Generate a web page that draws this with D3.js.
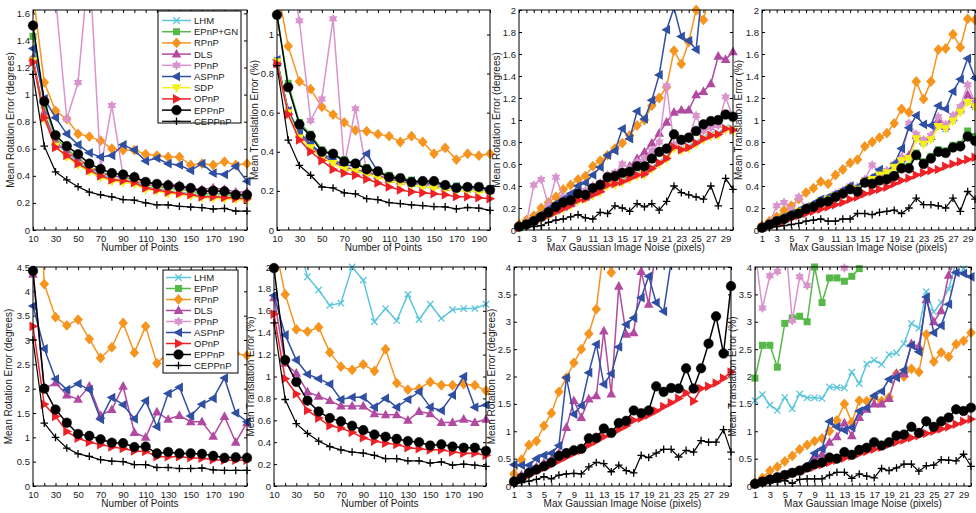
<!DOCTYPE html>
<html><head><meta charset="utf-8">
<script src="https://cdn.jsdelivr.net/npm/d3@7"></script>
<style>body{margin:0;background:#fff} text{font-family:"Liberation Sans",Arial,sans-serif;fill:#1a1a1a}</style>
</head><body><svg id="c" width="976" height="513"></svg>
<script>
// ---------- x values and tick labels ----------
const ptsX = [10,20,30,40,50,60,70,80,90,100,110,120,130,140,150,160,170,180,190,200];
const noiseX = [1,2,3,4,5,6,7,8,9,10,11,12,13,14,15,16,17,18,19,20,21,22,23,24,25,26,27,28,29,30];
const ptsTicks = [10,30,50,70,90,110,130,150,170,190];
const ptsMinor = [20,40,60,80,100,120,140,160,180,200];
const noiseTicks = [1,3,5,7,9,11,13,15,17,19,21,23,25,27,29];
const noiseMinor = [2,4,6,8,10,12,14,16,18,20,22,24,26,28,30];
const yTicksP1 = [0,0.2,0.4,0.6,0.8,1,1.2,1.4,1.6];
const yTicksP2 = [0,0.2,0.4,0.6,0.8,1];
const yTicks2 = [0,0.2,0.4,0.6,0.8,1,1.2,1.4,1.6,1.8,2];
const yTicks45 = [0,0.5,1,1.5,2,2.5,3,3.5,4,4.5];
const yTicks4 = [0,0.5,1,1.5,2,2.5,3,3.5,4];
const legendTop = ["LHM","EPnP+GN","RPnP","DLS","PPnP","ASPnP","SDP","OPnP","EPPnP","CEPPnP"];
const legendBottom = ["LHM","EPnP","RPnP","DLS","PPnP","ASPnP","OPnP","EPPnP","CEPPnP"];

// ---------- Panel 1: rotation vs number of points ----------
const P1_LHM    = [1.26,0.85,0.64,0.57,0.50,0.45,0.41,0.38,0.37,0.36,0.32,0.31,0.29,0.28,0.27,0.26,0.255,0.25,0.245,0.24];
const P1_EPnPGN = [1.43,0.92,0.68,0.60,0.53,0.47,0.43,0.40,0.39,0.37,0.34,0.32,0.31,0.30,0.29,0.27,0.27,0.265,0.25,0.25];
const P1_RPnP   = [1.75,1.09,0.88,0.82,0.71,0.69,0.66,0.60,0.59,0.59,0.56,0.55,0.54,0.54,0.48,0.49,0.48,0.505,0.48,0.49];
const P1_DLS    = [1.27,0.86,0.65,0.58,0.52,0.47,0.42,0.40,0.39,0.40,0.35,0.34,0.34,0.33,0.31,0.30,0.31,0.30,0.28,0.28];
const P1_PPnP   = [2.9,2.3,1.72,0.82,1.09,2.0,0.45,0.92,0.40,0.38,0.34,0.33,0.32,0.31,0.30,0.28,0.29,0.28,0.27,0.26];
const P1_ASPnP  = [1.34,0.97,0.83,0.71,0.63,0.57,0.54,0.55,0.63,0.59,0.51,0.53,0.49,0.48,0.44,0.49,0.42,0.41,0.47,0.36];
const P1_SDP    = [1.25,0.82,0.62,0.54,0.48,0.43,0.39,0.36,0.35,0.34,0.30,0.29,0.27,0.265,0.25,0.24,0.235,0.23,0.225,0.22];
const P1_OPnP   = [1.24,0.83,0.61,0.55,0.49,0.44,0.40,0.37,0.365,0.35,0.31,0.295,0.28,0.27,0.26,0.245,0.245,0.24,0.235,0.23];
const P1_EPPnP  = [1.51,0.95,0.70,0.62,0.56,0.49,0.45,0.42,0.41,0.39,0.355,0.34,0.33,0.32,0.31,0.285,0.29,0.285,0.26,0.26];
const P1_CEPPnP = [1.15,0.62,0.43,0.37,0.32,0.28,0.26,0.245,0.225,0.22,0.20,0.185,0.185,0.175,0.17,0.165,0.155,0.16,0.14,0.14];

// ---------- Panel 2: translation vs number of points ----------
const P2_LHM    = [0.87,0.61,0.49,0.43,0.38,0.35,0.32,0.31,0.29,0.28,0.26,0.25,0.235,0.23,0.225,0.215,0.21,0.21,0.205,0.20];
const P2_EPnPGN = [1.10,0.75,0.55,0.49,0.41,0.39,0.36,0.34,0.32,0.30,0.28,0.27,0.255,0.245,0.24,0.23,0.225,0.22,0.215,0.21];
const P2_RPnP   = [1.25,0.94,0.76,0.72,0.63,0.59,0.55,0.51,0.505,0.49,0.48,0.45,0.48,0.45,0.39,0.42,0.36,0.39,0.38,0.39];
const P2_DLS    = [0.86,0.61,0.49,0.43,0.38,0.35,0.32,0.31,0.295,0.28,0.26,0.25,0.24,0.235,0.23,0.22,0.215,0.215,0.21,0.205];
const P2_PPnP   = [1.5,1.4,1.07,0.56,0.67,1.08,0.33,0.62,0.30,0.29,0.27,0.26,0.245,0.24,0.235,0.225,0.215,0.215,0.21,0.205];
const P2_ASPnP  = [0.87,0.61,0.50,0.44,0.39,0.36,0.33,0.33,0.39,0.30,0.27,0.26,0.25,0.24,0.24,0.225,0.22,0.215,0.22,0.21];
const P2_SDP    = [0.86,0.60,0.47,0.42,0.37,0.34,0.31,0.30,0.285,0.27,0.25,0.24,0.23,0.22,0.215,0.21,0.20,0.20,0.195,0.19];
const P2_OPnP   = [0.85,0.59,0.46,0.40,0.355,0.31,0.29,0.28,0.26,0.24,0.22,0.205,0.195,0.19,0.185,0.18,0.17,0.17,0.165,0.16];
const P2_EPPnP  = [1.10,0.73,0.54,0.48,0.40,0.39,0.35,0.34,0.31,0.30,0.27,0.265,0.245,0.25,0.25,0.23,0.215,0.22,0.22,0.205];
const P2_CEPPnP = [0.84,0.46,0.33,0.28,0.22,0.215,0.19,0.185,0.16,0.155,0.14,0.135,0.128,0.125,0.12,0.118,0.108,0.115,0.112,0.10];

// ---------- Panel 3: rotation vs image noise ----------
const P3_LHM    = [0.02,0.05,0.08,0.11,0.14,0.17,0.20,0.23,0.28,0.29,0.33,0.36,0.42,0.43,0.45,0.48,0.51,0.52,0.57,0.62,0.66,0.77,0.74,0.76,0.80,0.84,0.87,0.88,0.93,0.92];
const P3_EPnPGN = [0.03,0.05,0.08,0.12,0.16,0.20,0.24,0.27,0.32,0.32,0.37,0.40,0.47,0.48,0.51,0.52,0.57,0.57,0.64,0.70,0.73,0.86,0.81,0.83,0.89,0.95,0.98,0.99,1.04,1.02];
const P3_RPnP   = [0.05,0.09,0.13,0.20,0.25,0.30,0.37,0.41,0.46,0.49,0.58,0.63,0.68,0.74,0.79,0.86,0.95,1.00,1.13,1.20,1.30,1.63,1.51,1.71,2.00,1.91,2.2,2.4,2.5,2.6];
const P3_DLS    = [0.03,0.05,0.08,0.12,0.15,0.18,0.21,0.24,0.29,0.30,0.34,0.37,0.43,0.45,0.52,0.58,0.65,0.71,0.79,0.88,0.98,1.07,1.09,1.09,1.23,1.26,1.33,1.58,1.55,1.62];
const P3_PPnP   = [0.03,0.06,0.41,0.46,0.22,0.48,0.30,0.32,0.33,0.36,0.40,0.43,0.50,0.52,0.60,0.56,0.62,0.65,0.72,0.80,1.31,0.78,0.80,0.83,1.04,0.90,0.93,0.95,1.21,1.02];
const P3_ASPnP  = [0.03,0.06,0.10,0.14,0.19,0.24,0.28,0.33,0.40,0.43,0.50,0.57,0.68,0.72,0.92,0.83,1.08,1.01,1.18,1.41,1.82,2.02,1.76,1.72,1.64,2.3,2.5,2.6,2.8,3.0];
const P3_SDP    = [0.02,0.04,0.07,0.10,0.13,0.16,0.19,0.22,0.26,0.28,0.31,0.34,0.40,0.41,0.43,0.46,0.49,0.50,0.55,0.60,0.64,0.74,0.72,0.74,0.78,0.82,0.85,0.86,0.91,0.90];
const P3_OPnP   = [0.02,0.045,0.075,0.105,0.135,0.165,0.195,0.225,0.27,0.285,0.32,0.35,0.41,0.42,0.44,0.47,0.50,0.51,0.56,0.61,0.65,0.755,0.73,0.75,0.79,0.83,0.86,0.87,0.92,0.91];
const P3_EPPnP  = [0.03,0.05,0.08,0.12,0.16,0.21,0.25,0.27,0.33,0.32,0.38,0.41,0.48,0.49,0.52,0.53,0.58,0.58,0.65,0.71,0.74,0.87,0.82,0.84,0.90,0.96,0.99,1.00,1.05,1.03];
const P3_CEPPnP = [0.03,0.03,0.03,0.04,0.07,0.09,0.10,0.12,0.14,0.11,0.10,0.16,0.15,0.22,0.20,0.17,0.24,0.21,0.24,0.18,0.26,0.40,0.34,0.32,0.30,0.28,0.40,0.22,0.47,0.37];

// ---------- Panel 4: translation vs image noise ----------
const P4_LHM    = [0.02,0.05,0.08,0.11,0.14,0.17,0.20,0.22,0.26,0.28,0.32,0.35,0.39,0.37,0.44,0.46,0.50,0.52,0.57,0.64,0.66,0.84,0.79,0.83,0.95,0.92,1.00,1.08,1.17,1.12];
const P4_EPnPGN = [0.02,0.05,0.08,0.11,0.14,0.16,0.20,0.22,0.27,0.27,0.31,0.34,0.38,0.36,0.44,0.43,0.46,0.47,0.50,0.58,0.58,0.70,0.62,0.67,0.73,0.72,0.77,0.78,0.90,0.85];
const P4_RPnP   = [0.04,0.08,0.12,0.18,0.22,0.28,0.34,0.38,0.44,0.42,0.50,0.55,0.61,0.64,0.76,0.80,0.84,0.88,0.97,1.10,1.07,1.35,1.19,1.35,1.64,1.65,1.78,1.66,1.92,1.91];
const P4_DLS    = [0.02,0.05,0.08,0.11,0.14,0.17,0.20,0.22,0.26,0.28,0.32,0.35,0.39,0.38,0.45,0.47,0.51,0.53,0.58,0.65,0.68,0.86,0.81,0.85,1.00,0.94,1.02,1.10,1.23,1.14];
const P4_PPnP   = [0.03,0.06,0.22,0.25,0.18,0.30,0.20,0.23,0.27,0.29,0.33,0.36,0.40,0.39,0.46,0.59,0.52,0.54,0.60,0.66,0.97,0.87,0.82,0.86,1.03,0.96,1.04,1.12,1.32,1.16];
const P4_ASPnP  = [0.03,0.06,0.09,0.12,0.15,0.18,0.21,0.24,0.28,0.30,0.33,0.36,0.40,0.39,0.45,0.48,0.55,0.52,0.60,0.74,0.93,1.04,0.96,0.95,1.13,1.10,1.26,1.37,1.56,1.38];
const P4_SDP    = [0.02,0.05,0.08,0.11,0.14,0.17,0.19,0.22,0.26,0.28,0.31,0.34,0.38,0.37,0.44,0.46,0.50,0.52,0.57,0.63,0.65,0.83,0.78,0.82,0.94,0.92,0.99,1.07,1.16,1.12];
const P4_OPnP   = [0.02,0.04,0.06,0.08,0.11,0.13,0.15,0.17,0.19,0.21,0.23,0.25,0.28,0.30,0.33,0.35,0.37,0.39,0.42,0.45,0.47,0.50,0.52,0.54,0.55,0.58,0.60,0.62,0.64,0.66];
const P4_EPPnP  = [0.02,0.05,0.08,0.10,0.13,0.15,0.19,0.21,0.25,0.26,0.30,0.33,0.37,0.35,0.43,0.42,0.45,0.46,0.49,0.56,0.56,0.68,0.60,0.65,0.71,0.70,0.75,0.76,0.85,0.81];
const P4_CEPPnP = [0.02,0.02,0.03,0.04,0.05,0.06,0.08,0.09,0.10,0.08,0.08,0.10,0.10,0.15,0.15,0.14,0.16,0.17,0.18,0.15,0.20,0.29,0.23,0.23,0.22,0.20,0.29,0.17,0.35,0.28];

// ---------- Panel 5: rotation vs number of points (second set) ----------
const P5_LHM    = [null,null,null,null,null,null,null,null,null,null,null,null,null,null,null,null,null,null,null,null];
const P5_EPnP   = [null,null,null,null,null,null,null,null,null,null,null,null,null,null,null,null,null,null,null,null];
const P5_RPnP   = [9.0,4.15,3.47,3.30,3.42,3.02,2.63,2.85,3.35,2.74,3.28,2.52,2.75,2.85,2.62,2.90,2.65,2.80,2.72,2.68];
const P5_DLS    = [4.35,2.00,2.12,1.87,1.78,2.05,1.45,1.57,2.05,1.10,1.00,1.52,1.37,1.45,1.32,1.32,1.02,1.43,0.90,1.30];
const P5_PPnP   = [null,null,null,null,null,null,null,null,null,null,null,null,null,null,null,null,null,null,null,null];
const P5_ASPnP  = [3.70,2.82,2.20,1.98,2.10,1.98,1.37,1.82,1.67,1.38,1.75,1.22,1.90,2.03,1.44,1.68,1.80,2.22,1.50,1.32];
const P5_OPnP   = [3.28,1.68,1.43,1.12,0.98,0.90,0.85,0.80,0.77,0.72,0.71,0.60,0.60,0.60,0.58,0.57,0.54,0.53,0.53,0.53];
const P5_EPPnP  = [4.42,2.00,1.57,1.30,1.07,1.03,0.96,0.89,0.88,0.80,0.81,0.67,0.70,0.67,0.67,0.66,0.62,0.58,0.59,0.58];
const P5_CEPPnP = [3.00,1.29,1.00,0.78,0.66,0.61,0.54,0.51,0.50,0.44,0.44,0.38,0.38,0.36,0.36,0.37,0.33,0.32,0.32,0.32];

// ---------- Panel 6: translation vs number of points (second set) ----------
const P6_LHM    = [null,null,2.28,1.91,1.79,1.65,1.67,2.00,1.88,1.50,1.62,1.51,1.75,1.52,1.66,1.53,1.61,1.62,1.62,1.66];
const P6_EPnP   = [null,null,null,null,null,null,null,null,null,null,null,null,null,null,null,null,null,null,null,null];
const P6_RPnP   = [2.25,1.75,1.43,1.41,1.45,1.22,1.09,1.06,1.11,1.05,1.25,0.94,0.88,0.89,0.95,0.92,0.92,0.93,0.92,0.87];
const P6_DLS    = [1.72,1.12,1.03,0.86,0.82,0.78,0.73,0.73,0.73,0.66,0.65,0.65,0.60,0.68,0.66,0.58,0.58,0.61,0.58,0.61];
const P6_PPnP   = [null,null,null,null,null,null,null,null,null,null,null,null,null,null,null,null,null,null,null,null];
const P6_ASPnP  = [1.74,1.38,1.15,1.02,0.98,0.93,0.79,0.81,0.81,0.72,0.80,0.72,0.79,0.86,0.72,0.69,0.83,1.00,0.72,0.74];
const P6_OPnP   = [1.57,0.98,0.84,0.69,0.62,0.55,0.53,0.49,0.44,0.41,0.39,0.38,0.35,0.34,0.33,0.33,0.31,0.30,0.30,0.28];
const P6_EPPnP  = [1.99,1.15,0.95,0.78,0.68,0.62,0.59,0.55,0.51,0.47,0.45,0.43,0.41,0.40,0.37,0.38,0.36,0.35,0.35,0.32];
const P6_CEPPnP = [1.49,0.79,0.57,0.48,0.41,0.36,0.33,0.31,0.30,0.28,0.25,0.25,0.23,0.23,0.21,0.22,0.19,0.20,0.19,0.18];

// ---------- Panel 7: rotation vs image noise (second set) ----------
const P7_LHM    = [null,null,null,null,null,null,null,null,null,null,null,null,null,null,null,null,null,null,null,null,null,null,null,null,null,null,null,null,null,null];
const P7_EPnP   = [null,null,null,null,null,null,null,null,null,null,null,null,null,null,null,null,null,null,null,null,null,null,null,null,null,null,null,null,null,null];
const P7_RPnP   = [0.22,0.48,0.75,0.82,1.10,1.33,1.72,1.98,2.25,2.50,2.78,3.23,4.35,3.90,4.6,null,null,null,null,null,null,null,null,null,null,null,null,null,null,null];
const P7_DLS    = [0.10,0.20,0.28,0.35,0.42,0.48,0.60,1.07,1.56,1.25,1.59,1.65,2.83,1.68,3.65,2.77,2.80,3.92,3.32,4.4,null,null,null,null,null,null,null,null,null,null];
const P7_PPnP   = [null,null,null,null,null,null,null,null,null,null,null,null,null,null,null,null,null,null,null,null,null,null,null,null,null,null,null,null,null,null];
const P7_ASPnP  = [0.39,0.38,0.38,0.50,0.56,0.60,0.74,1.98,1.31,1.47,2.07,2.59,1.86,2.05,2.54,2.95,3.07,3.44,3.83,3.35,3.19,4.1,null,null,null,null,null,null,null,null];
const P7_OPnP   = [0.07,0.13,0.20,0.27,0.33,0.39,0.46,0.53,0.60,0.65,0.75,0.82,0.90,0.96,1.03,1.10,1.20,1.24,1.30,1.37,1.45,1.52,1.60,1.70,1.55,1.78,1.82,1.88,1.97,2.08];
const P7_EPPnP  = [0.08,0.15,0.24,0.30,0.36,0.43,0.55,0.60,0.65,0.68,0.87,0.88,1.05,0.97,1.15,1.19,1.38,1.33,1.38,1.82,1.72,1.79,1.78,2.15,1.78,2.15,2.60,3.10,2.42,3.65];
const P7_CEPPnP = [0.03,0.06,0.09,0.12,0.17,0.13,0.20,0.22,0.23,0.22,0.35,0.43,0.41,0.26,0.38,0.28,0.24,0.56,0.52,0.60,0.67,0.67,0.53,0.65,0.62,0.83,0.80,0.80,1.03,0.62];

// ---------- Panel 8: translation vs image noise (second set) ----------
const P8_LHM    = [1.56,1.67,1.48,1.38,1.62,1.41,1.68,1.61,1.61,1.60,1.81,1.80,1.79,2.08,1.87,2.23,2.30,2.22,2.40,2.43,2.60,2.97,2.88,3.55,3.18,3.35,3.60,4.10,3.97,4.3];
const P8_EPnP   = [1.97,2.57,2.57,2.17,2.97,3.07,3.10,3.00,4.00,3.35,3.80,3.80,3.74,3.83,3.97,4.4,null,null,null,null,null,null,null,null,null,null,null,null,null,null];
const P8_RPnP   = [0.06,0.15,0.28,0.35,0.45,0.55,0.67,0.75,0.82,0.87,1.00,1.20,1.50,1.16,1.56,1.55,1.62,1.55,1.62,2.05,2.00,2.14,2.08,2.77,2.27,2.44,2.36,2.59,2.65,2.80];
const P8_DLS    = [0.04,0.08,0.12,0.16,0.20,0.24,0.28,0.33,0.55,0.58,0.80,0.90,1.15,0.92,1.25,1.40,1.50,1.50,1.60,2.05,2.05,2.60,2.55,3.40,3.00,3.20,3.85,4.2,4.3,4.4];
const P8_PPnP   = [4.3,3.25,3.84,3.92,4.6,3.02,3.82,3.66,4.4,4.6,4.5,4.3,3.98,4.5,null,null,null,null,null,null,null,null,null,null,null,null,null,null,null,null];
const P8_ASPnP  = [0.04,0.08,0.12,0.16,0.21,0.25,0.30,0.38,0.60,0.68,1.18,1.08,1.02,1.07,1.37,1.43,1.65,1.73,1.95,1.98,2.12,2.57,2.45,3.45,2.80,2.93,3.32,3.90,3.88,3.82];
const P8_OPnP   = [0.03,0.07,0.11,0.15,0.19,0.23,0.27,0.31,0.35,0.39,0.43,0.47,0.51,0.55,0.59,0.63,0.67,0.71,0.76,0.80,0.84,0.88,0.92,0.96,1.00,1.04,1.08,1.13,1.18,1.22];
const P8_EPPnP  = [0.04,0.08,0.12,0.16,0.20,0.24,0.28,0.34,0.40,0.43,0.52,0.50,0.62,0.57,0.66,0.70,0.80,0.74,0.80,0.92,0.94,1.08,0.97,1.18,1.08,1.18,1.25,1.40,1.37,1.43];
const P8_CEPPnP = [0.02,0.04,0.06,0.07,0.10,0.05,0.12,0.13,0.13,0.13,0.20,0.25,0.25,0.14,0.22,0.18,0.15,0.32,0.28,0.33,0.40,0.40,0.27,0.37,0.38,0.48,0.47,0.46,0.58,0.36];

// ---------- styles ----------
const STY = {
  "LHM":     {c:"#5cc6dc", m:"x", w:1.5},
  "EPnP+GN": {c:"#56b848", m:"s", w:1.5},
  "EPnP":    {c:"#56b848", m:"s", w:1.5},
  "RPnP":    {c:"#f7941e", m:"d", w:1.5},
  "DLS":     {c:"#b24aa2", m:"^", w:1.5},
  "PPnP":    {c:"#d993cd", m:"h", w:1.5},
  "ASPnP":   {c:"#2f4fa3", m:"<", w:1.5},
  "SDP":     {c:"#f6f01a", m:"v", w:1.5},
  "OPnP":    {c:"#ee2226", m:">", w:1.5},
  "EPPnP":   {c:"#000000", m:"o", w:1.5},
  "CEPPnP":  {c:"#000000", m:"+", w:1.2}
};

const svg = d3.select("#c");

function hexagram(r){
  const pts=[];
  for(let i=0;i<12;i++){
    const a=-Math.PI/2+i*Math.PI/6;
    const rr=(i%2===0)?r:r*0.58;
    pts.push([rr*Math.cos(a),rr*Math.sin(a)]);
  }
  return "M"+pts.map(p=>p[0].toFixed(2)+","+p[1].toFixed(2)).join("L")+"Z";
}
function drawMarker(g,type,color,x,y){
  const t=`translate(${x},${y})`;
  switch(type){
    case "o": g.append("circle").attr("cx",x).attr("cy",y).attr("r",4.8).attr("fill",color).attr("stroke",color).attr("stroke-width",0.5); break;
    case "x": g.append("path").attr("d","M-3.2,-3.2L3.2,3.2M-3.2,3.2L3.2,-3.2").attr("transform",t).attr("stroke",color).attr("stroke-width",1.3).attr("fill","none"); break;
    case "+": g.append("path").attr("d","M-3.8,0H3.8M0,-3.8V3.8").attr("transform",t).attr("stroke",color).attr("stroke-width",1.3).attr("fill","none"); break;
    case "s": g.append("rect").attr("x",x-3.5).attr("y",y-3.5).attr("width",7).attr("height",7).attr("fill",color); break;
    case "d": g.append("path").attr("d","M0,-5.4L4.8,0L0,5.4L-4.8,0Z").attr("transform",t).attr("fill",color); break;
    case "^": g.append("path").attr("d","M0,-5.2L4.8,3.5L-4.8,3.5Z").attr("transform",t).attr("fill",color); break;
    case "v": g.append("path").attr("d","M0,5.2L4.8,-3.5L-4.8,-3.5Z").attr("transform",t).attr("fill",color); break;
    case "<": g.append("path").attr("d","M-5.2,0L3.5,-4.8L3.5,4.8Z").attr("transform",t).attr("fill",color); break;
    case ">": g.append("path").attr("d","M5.2,0L-3.5,-4.8L-3.5,4.8Z").attr("transform",t).attr("fill",color); break;
    case "h": g.append("path").attr("d",hexagram(5)).attr("transform",t).attr("fill",color); break;
  }
}

let clipId=0;
function panel(cfg){
  const [x0,y0,x1,y1]=cfg.box;
  const xs=d3.scaleLinear().domain(cfg.xDomain).range([x0,x1]);
  const ys=d3.scaleLinear().domain(cfg.yDomain).range([y1,y0]);
  const g=svg.append("g");
  const id="clip"+(clipId++);
  svg.append("clipPath").attr("id",id).append("rect").attr("x",x0).attr("y",y0).attr("width",x1-x0).attr("height",y1-y0);

  const fmt=d=>String(d);
  const style=a=>{a.select(".domain").remove(); a.attr("font-family",null); a.selectAll("text").attr("font-size",9.5).attr("fill","#1a1a1a"); a.selectAll("line").attr("stroke","#000");};
  g.append("g").attr("transform",`translate(0,${y1})`)
    .call(d3.axisBottom(xs).tickValues(cfg.xTicks).tickSize(-3).tickPadding(5).tickFormat(fmt)).call(style);
  g.append("g").attr("transform",`translate(0,${y1})`)
    .call(d3.axisBottom(xs).tickValues(cfg.xMinor).tickSize(-3).tickFormat("")).call(style);
  g.append("g").attr("transform",`translate(0,${y0})`)
    .call(d3.axisTop(xs).tickValues(cfg.xTicks.concat(cfg.xMinor)).tickSize(-3).tickFormat("")).call(style);
  g.append("g").attr("transform",`translate(${x0},0)`)
    .call(d3.axisLeft(ys).tickValues(cfg.yTicks).tickSize(-3).tickPadding(3).tickFormat(fmt)).call(style);
  g.append("g").attr("transform",`translate(${x1},0)`)
    .call(d3.axisRight(ys).tickValues(cfg.yTicks).tickSize(-3).tickFormat("")).call(style);

  const plot=g.append("g");
  const ymax=cfg.yDomain[1];
  cfg.series.forEach(s=>{
    const st=STY[s.name];
    const pts=cfg.xVals.map((x,i)=>[x,s.data[i]]);
    const line=d3.line().defined(d=>d[1]!=null).x(d=>xs(d[0])).y(d=>ys(d[1]));
    plot.append("path").attr("d",line(pts)).attr("fill","none").attr("stroke",st.c)
      .attr("stroke-width",st.w).attr("stroke-linejoin","round").attr("clip-path",`url(#${id})`);
    const mg=plot.append("g");
    pts.forEach(d=>{ if(d[1]!=null && d[1]<=ymax*1.004 && d[1]>=cfg.yDomain[0]) drawMarker(mg,st.m,st.c,xs(d[0]),ys(d[1])); });
  });

  g.append("rect").attr("x",x0).attr("y",y0).attr("width",x1-x0).attr("height",y1-y0)
    .attr("fill","none").attr("stroke","#000").attr("stroke-width",1);

  g.append("text").attr("x",(x0+x1)/2).attr("y",y1+21).attr("text-anchor","middle").attr("font-size",10).text(cfg.xTitle);
  g.append("text").attr("transform",`translate(${x0-cfg.yTitleOff},${(y0+y1)/2}) rotate(-90)`).attr("text-anchor","middle").attr("font-size",10).text(cfg.yTitle);

  if(cfg.legend){
    const L=cfg.legend;
    const lg=g.append("g");
    lg.append("rect").attr("x",L.x).attr("y",L.y).attr("width",L.w).attr("height",L.h).attr("fill","#fff").attr("stroke","#000").attr("stroke-width",1);
    L.names.forEach((n,i)=>{
      const st=STY[n];
      const yy=L.y+L.first+i*L.step;
      lg.append("line").attr("x1",L.x+L.l0).attr("x2",L.x+L.l1).attr("y1",yy).attr("y2",yy).attr("stroke",st.c).attr("stroke-width",st.w);
      drawMarker(lg,st.m,st.c,L.x+(L.l0+L.l1)/2,yy);
      lg.append("text").attr("x",L.x+L.l1+3).attr("y",yy+3.5).attr("font-size",9.5).text(n);
    });
  }
}

const T = "Mean Translation Error (%)", R = "Mean Rotation Error (degrees)";
const NP = "Number of Points", NG = "Max Gaussian Image Noise (pixels)";
const mk = (names, arrs) => names.map((n,i)=>({name:n, data:arrs[i]}));

const ptsCfg = {xVals:ptsX, xDomain:[10,200], xTicks:ptsTicks, xMinor:ptsMinor, xTitle:NP};
const noiCfg = {xVals:noiseX, xDomain:[1,30], xTicks:noiseTicks, xMinor:noiseMinor, xTitle:NG};

panel(Object.assign({}, ptsCfg, {box:[33,10,247,230], yDomain:[0,1.625], yTicks:yTicksP1, yTitle:R, yTitleOff:19,
  series: mk(legendTop,[P1_LHM,P1_EPnPGN,P1_RPnP,P1_DLS,P1_PPnP,P1_ASPnP,P1_SDP,P1_OPnP,P1_EPPnP,P1_CEPPnP]),
  legend:{x:158,y:11,w:83,h:112,first:9.5,step:11.2,l0:4,l1:33,names:legendTop}}));
panel(Object.assign({}, ptsCfg, {box:[277,10,490,230], yDomain:[0,1.125], yTicks:yTicksP2, yTitle:T, yTitleOff:19,
  series: mk(legendTop,[P2_LHM,P2_EPnPGN,P2_RPnP,P2_DLS,P2_PPnP,P2_ASPnP,P2_SDP,P2_OPnP,P2_EPPnP,P2_CEPPnP])}));
panel(Object.assign({}, noiCfg, {box:[519,10,733,230], yDomain:[0,2], yTicks:yTicks2, yTitle:R, yTitleOff:19,
  series: mk(legendTop,[P3_LHM,P3_EPnPGN,P3_RPnP,P3_DLS,P3_PPnP,P3_ASPnP,P3_SDP,P3_OPnP,P3_EPPnP,P3_CEPPnP])}));
panel(Object.assign({}, noiCfg, {box:[762,10,975,230], yDomain:[0,2], yTicks:yTicks2, yTitle:T, yTitleOff:20,
  series: mk(legendTop,[P4_LHM,P4_EPnPGN,P4_RPnP,P4_DLS,P4_PPnP,P4_ASPnP,P4_SDP,P4_OPnP,P4_EPPnP,P4_CEPPnP])}));

panel(Object.assign({}, ptsCfg, {box:[33,267,247,486], yDomain:[0,4.5], yTicks:yTicks45, yTitle:R, yTitleOff:21,
  series: mk(legendBottom,[P5_LHM,P5_EPnP,P5_RPnP,P5_DLS,P5_PPnP,P5_ASPnP,P5_OPnP,P5_EPPnP,P5_CEPPnP]),
  legend:{x:163,y:270,w:75,h:103,first:7.5,step:11,l0:3,l1:28,names:legendBottom}}));
panel(Object.assign({}, ptsCfg, {box:[274,267,486,486], yDomain:[0,2], yTicks:yTicks2, yTitle:T, yTitleOff:20,
  series: mk(legendBottom,[P6_LHM,P6_EPnP,P6_RPnP,P6_DLS,P6_PPnP,P6_ASPnP,P6_OPnP,P6_EPPnP,P6_CEPPnP])}));
panel(Object.assign({}, noiCfg, {box:[514,267,731,486], yDomain:[0,4], yTicks:yTicks4, yTitle:R, yTitleOff:19,
  series: mk(legendBottom,[P7_LHM,P7_EPnP,P7_RPnP,P7_DLS,P7_PPnP,P7_ASPnP,P7_OPnP,P7_EPPnP,P7_CEPPnP])}));
panel(Object.assign({}, noiCfg, {box:[755,267,971,486], yDomain:[0,4], yTicks:yTicks4, yTitle:T, yTitleOff:19,
  series: mk(legendBottom,[P8_LHM,P8_EPnP,P8_RPnP,P8_DLS,P8_PPnP,P8_ASPnP,P8_OPnP,P8_EPPnP,P8_CEPPnP])}));
</script>
</body></html>
